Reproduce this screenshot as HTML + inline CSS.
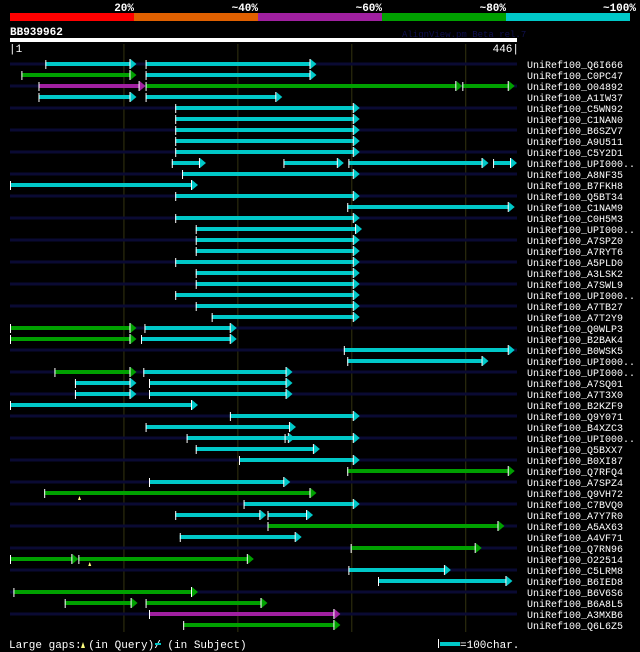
<!DOCTYPE html>
<html><head><meta charset="utf-8"><style>
html,body{margin:0;padding:0;background:#000;}
svg{display:block;font-family:"Liberation Mono",monospace;}
</style></head><body>
<svg id="chart" width="640" height="652" xmlns="http://www.w3.org/2000/svg">
<rect width="640" height="652" fill="#000"/>
<g id="hdr"></g>
<g id="grid"></g>
<g id="rows"></g>
</svg>
<script>
const qLen = 446;
const scoreLabels = ["20%","~40%","~60%","~80%","~100%"];
const colors = ["#ff0000","#e06000","#a020a0","#00a000","#00c8c8"];
const names = ["UniRef100_Q6I666","UniRef100_C0PC47","UniRef100_O04892","UniRef100_A1IW37","UniRef100_C5WN92","UniRef100_C1NAN0","UniRef100_B6SZV7","UniRef100_A9U511","UniRef100_C5Y2D1","UniRef100_UPI000..","UniRef100_A8NF35","UniRef100_B7FKH8","UniRef100_Q5BT34","UniRef100_C1NAM9","UniRef100_C0H5M3","UniRef100_UPI000..","UniRef100_A7SPZ0","UniRef100_A7RYT6","UniRef100_A5PLD0","UniRef100_A3LSK2","UniRef100_A7SWL9","UniRef100_UPI000..","UniRef100_A7TB27","UniRef100_A7T2Y9","UniRef100_Q0WLP3","UniRef100_B2BAK4","UniRef100_B0WSK5","UniRef100_UPI000..","UniRef100_UPI000..","UniRef100_A7SQ01","UniRef100_A7T3X0","UniRef100_B2KZF9","UniRef100_Q9Y071","UniRef100_B4XZC3","UniRef100_UPI000..","UniRef100_Q5BXX7","UniRef100_B0XI87","UniRef100_Q7RFQ4","UniRef100_A7SPZ4","UniRef100_Q9VH72","UniRef100_C7BVQ0","UniRef100_A7Y7R0","UniRef100_A5AX63","UniRef100_A4VF71","UniRef100_Q7RN96","UniRef100_O22514","UniRef100_C5LRM8","UniRef100_B6IED8","UniRef100_B6V6S6","UniRef100_B6A8L5","UniRef100_A3MXB6","UniRef100_Q6L6Z5"];
// segments per row: [start, end, colorIndex] in query positions
const segments = [
[[32,112,4],[120,270,4]],
[[11,112,3],[120,270,4]],
[[26,120,2],[120,398,3],[398,444,3]],
[[26,112,4],[120,240,4]],
[[146,308,4]],[[146,308,4]],[[146,308,4]],[[146,308,4]],[[146,308,4]],
[[143,173,4],[241,294,4],[298,421,4],[425,446,4]],
[[152,308,4]],
[[1,166,4]],
[[146,308,4]],
[[297,444,4]],
[[146,308,4]],
[[164,310,4]],[[164,308,4]],[[164,308,4]],[[146,308,4]],[[164,308,4]],[[164,308,4]],[[146,308,4]],[[164,308,4]],
[[178,308,4]],
[[1,112,3],[119,200,4]],
[[1,112,3],[116,200,4]],
[[294,444,4]],
[[297,421,4]],
[[40,112,3],[118,249,4]],
[[58,112,4],[123,249,4]],
[[58,112,4],[123,249,4]],
[[1,166,4]],
[[194,308,4]],
[[120,252,4]],
[[156,251,4],[242,308,4]],
[[164,273,4]],
[[202,308,4]],
[[297,444,3]],
[[123,247,4]],
[[31,270,3]],
[[206,308,4]],
[[146,226,4],[227,267,4]],
[[227,435,3]],
[[150,257,4]],
[[300,415,3]],
[[1,61,3],[61,215,3]],
[[298,388,4]],
[[324,442,4]],
[[4,166,3]],
[[49,113,3],[120,227,3]],
[[123,291,2]],
[[153,291,3]]
];
const gapsQ = [[39,62],[45,71]];

const NS = "http://www.w3.org/2000/svg";
const X0 = 10, X1 = 517, Y0 = 64, DY = 11;
function xs(p){ return X0 + (p - 1) * (X1 - X0) / (qLen - 1); }
function ys(i){ return Y0 + i * DY; }
function mk(tag, attrs, parent){ const e=document.createElementNS(NS,tag); for(const k in attrs) e.setAttribute(k,attrs[k]); parent.appendChild(e); return e; }

const hdr = document.getElementById('hdr');
for (let i=0;i<5;i++){
  const r = mk('rect',{x:10+i*124,y:13,width:124,height:8,fill:colors[i]},hdr);
  
  
  const t = mk('text',{x:10+(i+1)*124+(i==4?6:0),y:11,fill:'#fff','font-size':'11','font-weight':'bold','text-anchor':'end'},hdr);
  t.textContent = scoreLabels[i];
  
  
}
let t = mk('text',{x:10,y:35,fill:'#fff','font-size':'11','font-weight':'bold'},hdr); t.textContent='BB939962';
 
t = mk('text',{x:402,y:37,fill:'#101050','font-size':'9'},hdr); t.textContent='AlignView.pm Beta rel.7';
 
let r = mk('rect',{x:10,y:38,width:507,height:4,fill:'#fff'},hdr);
 
t = mk('text',{x:9,y:52,fill:'#fff','font-size':'11'},hdr); t.textContent='|1';
 
t = mk('text',{x:519,y:52,fill:'#fff','font-size':'11','text-anchor':'end'},hdr); t.textContent='446|';
 

const grid = document.getElementById('grid');
for (let p=101;p<qLen;p+=100){
  const l = mk('line',{x1:xs(p),x2:xs(p),y1:44,y2:632,stroke:'#333310','stroke-width':1},grid);
  
  
}

const rows = document.getElementById('rows');
names.forEach((n,i)=>{
  const y = ys(i);
  const g = mk('g',{},rows);
  
  
  if (i%2==0) mk('rect',{x:X0,y:y-1.5,width:X1-X0,height:3,fill:'#0a0a33'},g);
  segments[i].forEach(s=>{
    const a = xs(s[0]), b = xs(s[1]), c = colors[s[2]];
    const bar = mk('rect',{x:a,y:y-2,width:Math.max(0,b-a-5),height:4,fill:c},g);
    
    
    mk('line',{x1:a+0.5,x2:a+0.5,y1:y-4,y2:y+5,stroke:'#fff','stroke-width':1},g);
    mk('polygon',{points:`${b-6},${y-5} ${b},${y} ${b-6},${y+5}`,fill:c},g);
    mk('line',{x1:b-6.5,x2:b-6.5,y1:y-5,y2:y+5,stroke:'#fff','stroke-width':1},g);
  });
  const lt = mk('text',{x:527,y:y+4,fill:'#fff','font-size':'10'},g);
  lt.textContent = n;
  
  
});
gapsQ.forEach(gq=>{
  const m = mk('polygon',{points:`${xs(gq[1])-1.5},${ys(gq[0])+7} ${xs(gq[1])},${ys(gq[0])+3} ${xs(gq[1])+1.5},${ys(gq[0])+7}`,fill:'#ffff80'},rows);
  
  
});

const lg = mk('g',{},rows);


t = mk('text',{x:9,y:648,fill:'#fff','font-size':'11'},lg);
t.textContent='Large gaps:  (in Query)/  (in Subject)';
mk('polygon',{points:'81,648 83,642 85,648',fill:'#ffff80'},lg);
mk('rect',{x:155,y:643,width:6,height:2,fill:'#00c8c8'},lg);
mk('rect',{x:440,y:642,width:20,height:4,fill:'#00c8c8'},lg);
mk('line',{x1:438.5,x2:438.5,y1:639,y2:648,stroke:'#fff'},lg);
t = mk('text',{x:460,y:648,fill:'#fff','font-size':'11'},lg); t.textContent='=100char.';
</script>
</body></html>
